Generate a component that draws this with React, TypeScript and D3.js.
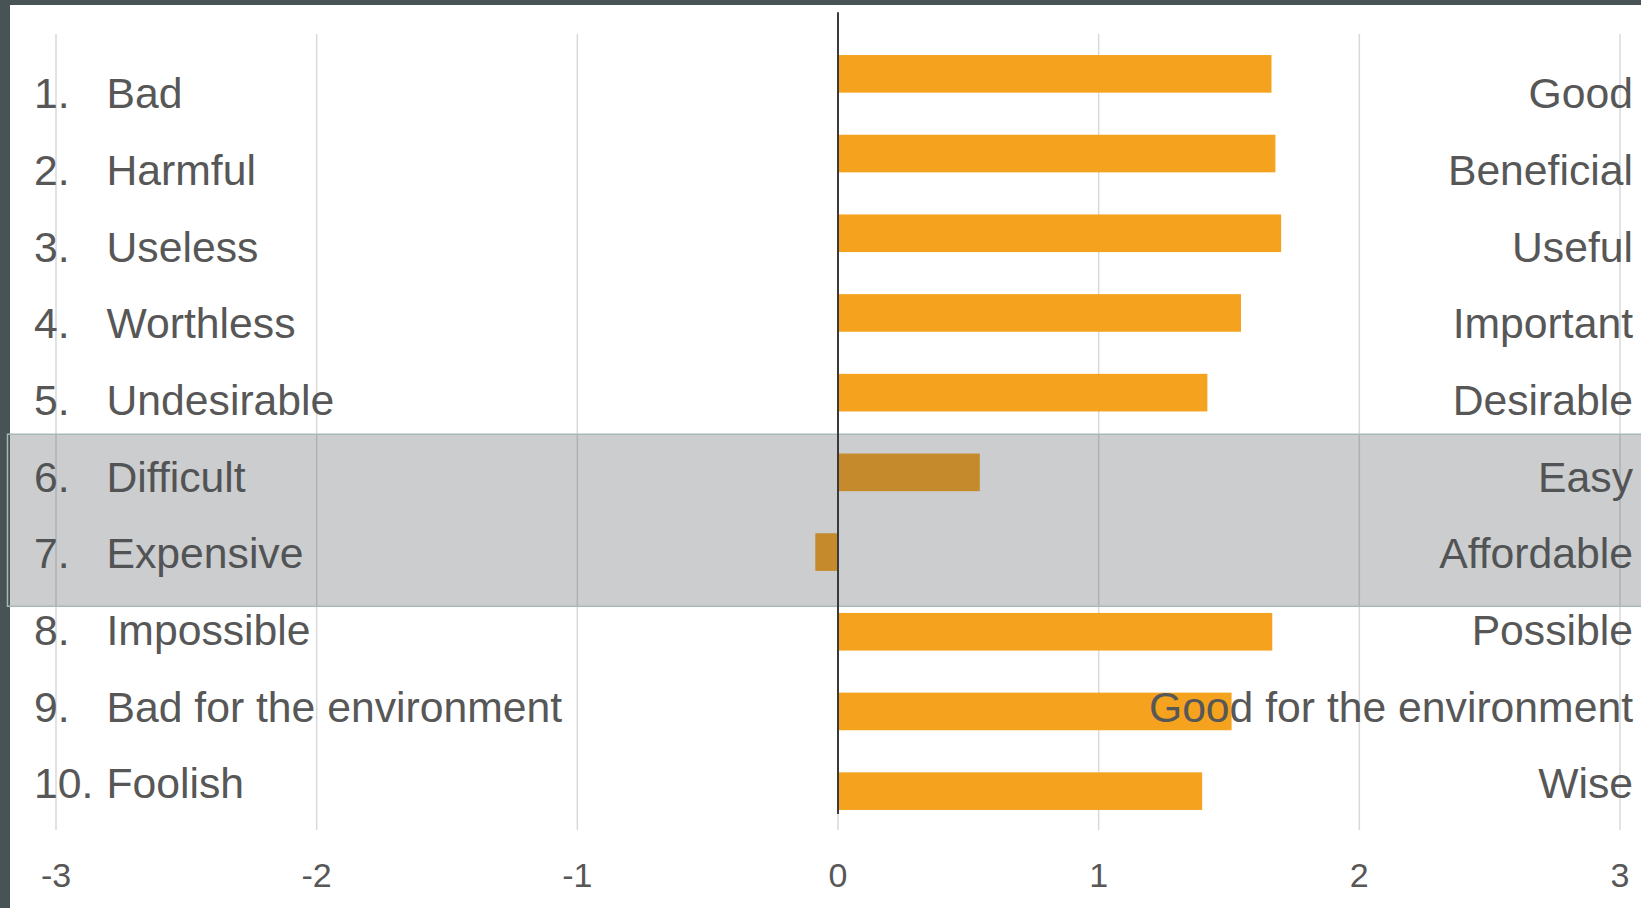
import React from "react";
import * as d3 from "d3";

const leftLabels = ["Bad", "Harmful", "Useless", "Worthless", "Undesirable", "Difficult", "Expensive", "Impossible", "Bad for the environment", "Foolish"];
const rightLabels = ["Good", "Beneficial", "Useful", "Important", "Desirable", "Easy", "Affordable", "Possible", "Good for the environment", "Wise"];
const values = [1.663, 1.678, 1.70, 1.546, 1.417, 0.544, -0.087, 1.666, 1.51, 1.397];
const ticks = [-3, -2, -1, 0, 1, 2, 3];
const highlighted = ["6", "7"];

const W = 1641;
const H = 908;
const FONT = "'Liberation Sans', Arial, Helvetica, sans-serif";
const TEXT = "#575757";

export default function App() {
  const ids = leftLabels.map((_, i) => String(i + 1));
  const x = d3.scaleLinear().domain([-3, 3]).range([56, 1620]);
  const y = d3.scaleBand().domain(ids).range([34, 831]).paddingInner(0.528).paddingOuter(0.264);
  const ly = d3.scalePoint().domain(ids).range([108.3, 798.3]);

  const hTop = (ly(highlighted[0]) as number) - 57.4;
  const hBot = (ly(highlighted[highlighted.length - 1]) as number) + 38;

  return (
    <svg width={W} height={H} style={{ position: "fixed", left: 0, top: 0 }} fontFamily={FONT}>
      <rect x={0} y={0} width={W} height={H} fill="#485356" />
      <rect x={10} y={5} width={W - 10} height={H - 5} fill="#ffffff" />
      {ticks.map((t) => (
        <line key={"g" + t} x1={x(t)} x2={x(t)} y1={34} y2={830} stroke="#d9d9d9" strokeWidth={1.5} />
      ))}
      {values.map((v, i) => (
        <rect
          key={"b" + i}
          x={Math.min(x(0), x(v))}
          y={y(ids[i])}
          width={Math.abs(x(v) - x(0))}
          height={y.bandwidth()}
          fill="#f5a31f"
        />
      ))}
      {ids.map((id, i) => (
        <g key={"l" + id} fontSize={42.7} fill={TEXT}>
          <text x={34} y={ly(id)}>{id + "."}</text>
          <text x={106.5} y={ly(id)}>{leftLabels[i]}</text>
          <text x={1633} y={ly(id)} textAnchor="end">{rightLabels[i]}</text>
        </g>
      ))}
      <rect
        x={7.5}
        y={hTop}
        width={W}
        height={hBot - hTop}
        fill="rgba(70,74,80,0.28)"
        stroke="#a8b8b9"
        strokeWidth={1.5}
      />
      <line x1={x(0)} x2={x(0)} y1={12.3} y2={814} stroke="#3a3a3a" strokeWidth={2} />
      {ticks.map((t) => (
        <text key={"t" + t} x={x(t)} y={887} fontSize={34} fill={TEXT} textAnchor="middle">
          {t}
        </text>
      ))}
    </svg>
  );
}
